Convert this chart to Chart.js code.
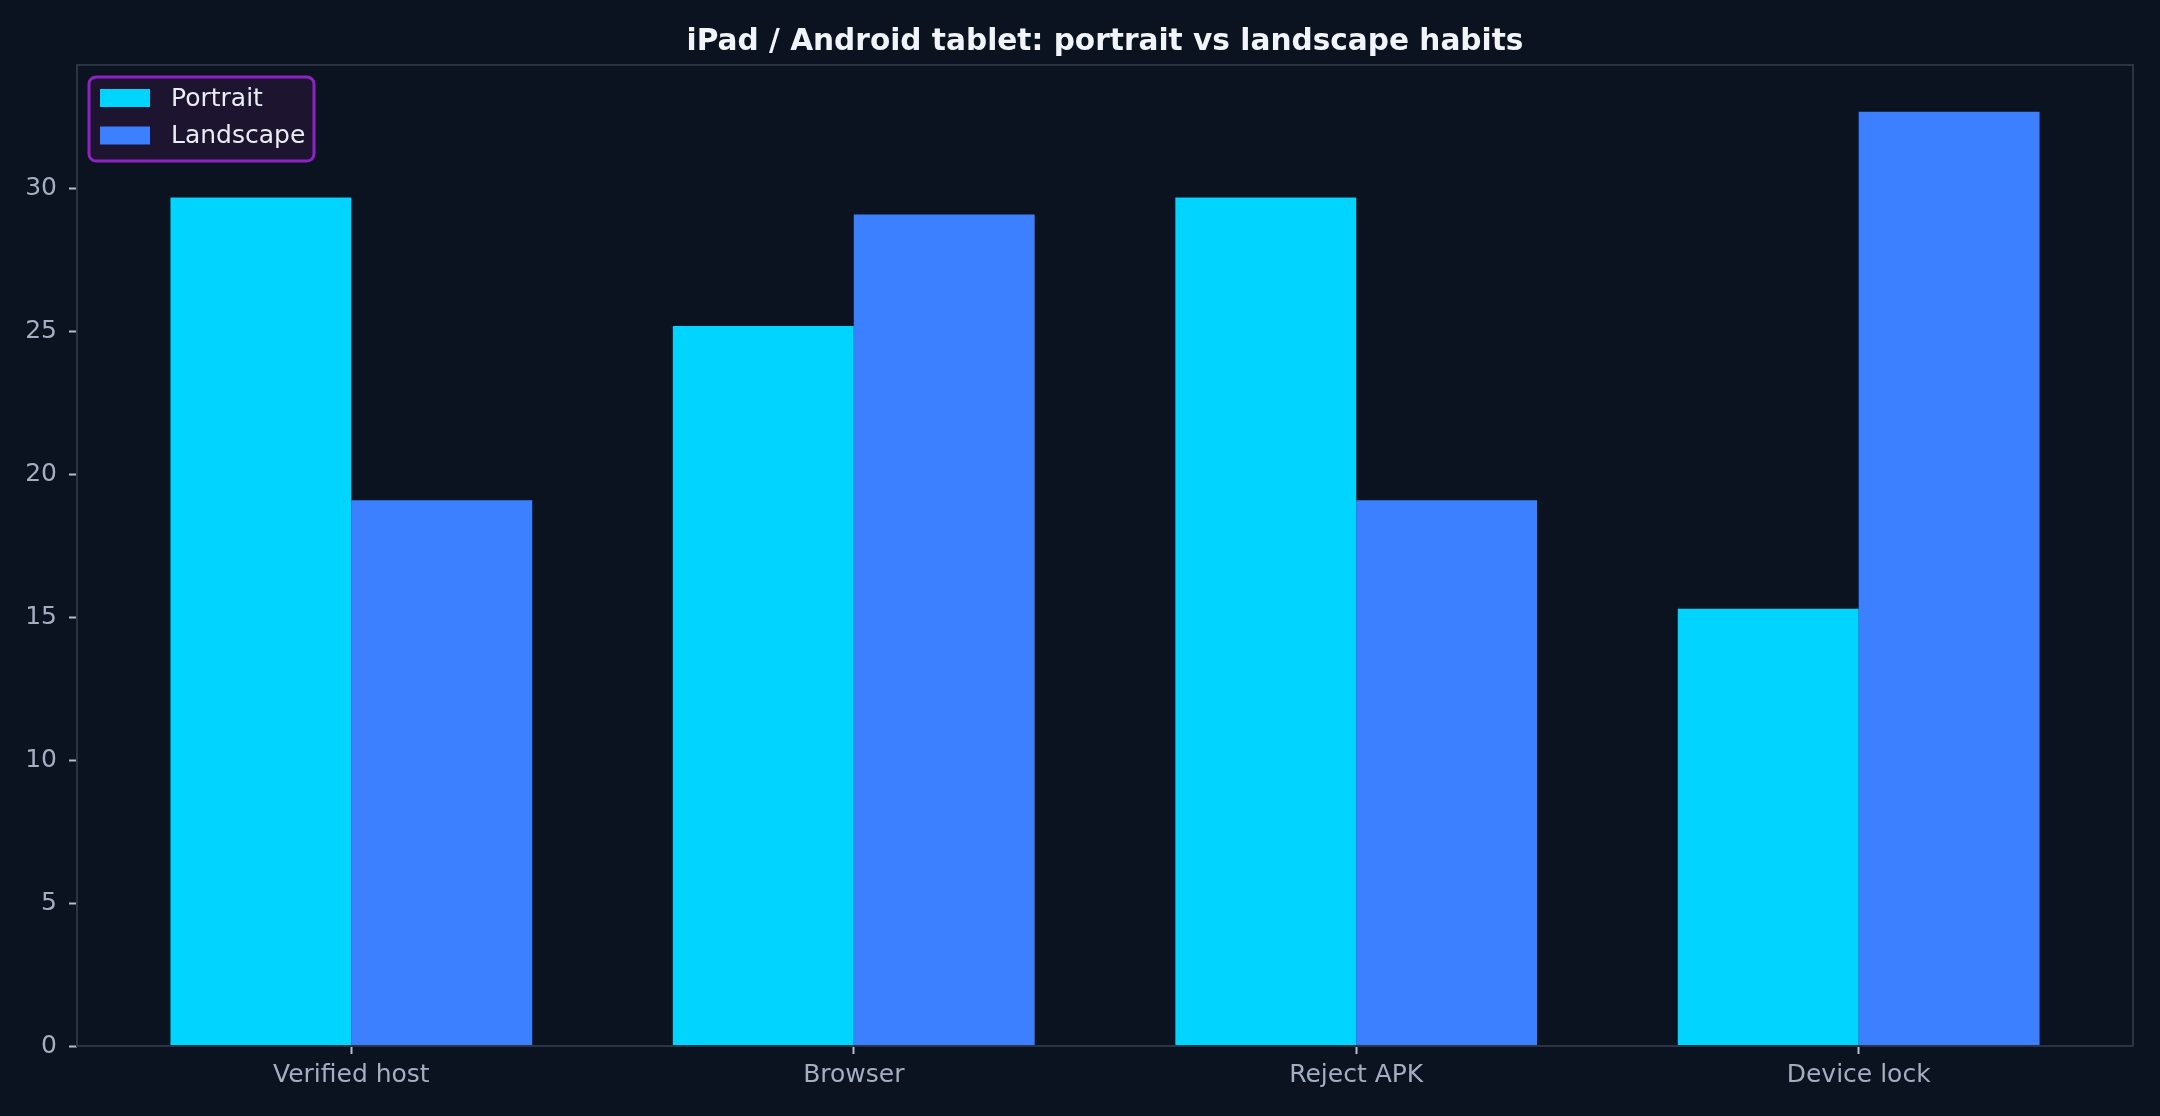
<!DOCTYPE html>
<html>
<head>
<meta charset="utf-8">
<script src="https://cdn.jsdelivr.net/npm/chart.js@4.4.1/dist/chart.umd.min.js"></script>
<style>
  html, body { margin: 0; padding: 0; background: #0b1220; }
  #wrap { width: 2160px; height: 1116px; }
</style>
</head>
<body>
<div id="wrap"><canvas id="chart"></canvas></div>
<script>
const chartTitle = 'iPad / Android tablet: portrait vs landscape habits';
const categories = ['Verified host', 'Browser', 'Reject APK', 'Device lock'];
const portraitValues = [29.7, 25.2, 29.7, 15.3];
const landscapeValues = [19.1, 29.1, 19.1, 32.7];
const yTickValues = [0, 5, 10, 15, 20, 25, 30];
const seriesNames = ['Portrait', 'Landscape'];

const bg = '#0b1220';
const tickText = '#a3aec0';
const spineColor = '#2c3345';
const font = 'DejaVu Sans';

// background, title, frame and the boxed legend
const decor = {
    id: 'decor',
    beforeDraw(chart) {
        const ctx = chart.ctx;
        ctx.save();
        ctx.fillStyle = bg;
        ctx.fillRect(0, 0, chart.width, chart.height);
        ctx.restore();
    },
    afterDatasetsDraw(chart) {
        const { ctx, chartArea: a } = chart;
        ctx.save();
        ctx.strokeStyle = spineColor;
        ctx.lineWidth = 2;
        ctx.strokeRect(a.left, a.top, a.right - a.left, a.bottom - a.top);
        ctx.restore();
    },
    afterDraw(chart) {
        const { ctx, chartArea: a } = chart;
        ctx.save();
        ctx.fillStyle = '#f1f4f9';
        ctx.font = 'bold 29.6px "' + font + '"';
        ctx.textAlign = 'center';
        ctx.textBaseline = 'alphabetic';
        ctx.fillText(chartTitle, (a.left + a.right) / 2, 50);

        // legend box
        const bx = a.left + 12, by = a.top + 12, bw = 225, bh = 84;
        ctx.beginPath();
        ctx.roundRect(bx, by, bw, bh, 7);
        ctx.fillStyle = 'rgba(31, 22, 48, 0.95)';
        ctx.fill();
        ctx.lineWidth = 3;
        ctx.strokeStyle = '#8e22c4';
        ctx.stroke();

        ctx.font = '25px "' + font + '"';
        ctx.textAlign = 'left';
        ctx.textBaseline = 'middle';
        chart.data.datasets.forEach((ds, i) => {
            const cy = by + 21 + i * 37.5;
            ctx.fillStyle = ds.backgroundColor;
            ctx.fillRect(bx + 11, cy - 9, 50, 18);
            ctx.fillStyle = '#e9edf3';
            ctx.fillText(ds.label, bx + 82, cy + 1);
        });
        ctx.restore();
    }
};

new Chart(document.getElementById('chart'), {
    type: 'bar',
    data: {
        datasets: [{
            label: seriesNames[0],
            data: portraitValues.map((v, i) => ({ x: i, y: v })),
            backgroundColor: '#00d4ff',
            borderWidth: 0
        }, {
            label: seriesNames[1],
            data: landscapeValues.map((v, i) => ({ x: i, y: v })),
            backgroundColor: '#3d80ff',
            borderWidth: 0
        }]
    },
    options: {
        responsive: true,
        maintainAspectRatio: false,
        animation: false,
        devicePixelRatio: 1,
        categoryPercentage: 0.72,
        barPercentage: 1,
        layout: {
            padding: { top: 65, right: 27, left: 0, bottom: 0 }
        },
        scales: {
            x: {
                type: 'linear',
                offset: false,
                min: -0.546,
                max: 3.546,
                afterBuildTicks: (axis) => {
                    axis.ticks = categories.map((c, i) => ({ value: i }));
                },
                afterFit: (scale) => { scale.height = 70; },
                ticks: {
                    callback: (v) => categories[v],
                    color: tickText,
                    font: { family: font, size: 25 },
                    padding: 6,
                    maxRotation: 0,
                    autoSkip: false
                },
                grid: {
                    offset: false,
                    drawOnChartArea: false,
                    drawTicks: true,
                    tickLength: 8,
                    tickWidth: 2,
                    tickColor: '#b5bfcd'
                },
                border: { display: false }
            },
            y: {
                min: 0,
                max: 34.335,
                afterBuildTicks: (axis) => {
                    axis.ticks = yTickValues.map(v => ({ value: v }));
                },
                afterFit: (scale) => { scale.width = 77; },
                ticks: {
                    color: tickText,
                    font: { family: font, size: 25 },
                    padding: 12
                },
                grid: {
                    drawOnChartArea: false,
                    drawTicks: true,
                    tickLength: 8,
                    tickWidth: 2,
                    tickColor: '#b5bfcd'
                },
                border: { display: false }
            }
        },
        plugins: {
            legend: { display: false },
            title: { display: false },
            tooltip: { enabled: false }
        }
    },
    plugins: [decor]
});
</script>
</body>
</html>
